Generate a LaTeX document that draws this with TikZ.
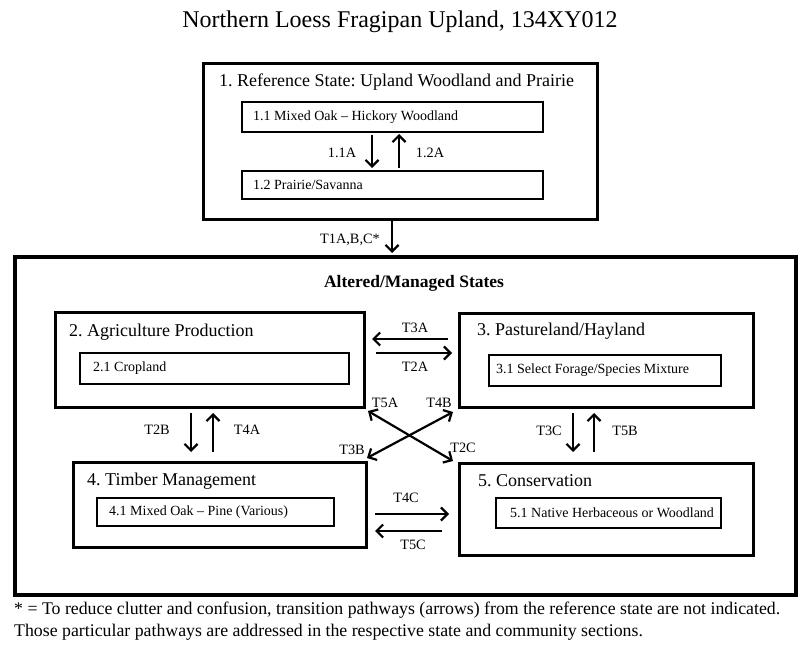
\documentclass[tikz,border=0pt]{standalone}
\usepackage{fontspec}
\setmainfont{Liberation Serif}
\usetikzlibrary{arrows.meta}
\frenchspacing
\begin{document}
\begin{tikzpicture}[x=1pt,y=-1pt,
  outerbox/.style={draw, line width=3pt, inner sep=0pt, rectangle},
  bigbox/.style={draw, line width=4.5pt, inner sep=0pt, rectangle},
  subbox/.style={draw, line width=1.8pt, inner sep=0pt, rectangle},
  boxtitle/.style={inner sep=0pt, anchor=west, font=\fontsize{18}{20}\selectfont},
  subtext/.style={inner sep=0pt, anchor=west, font=\fontsize{14}{16}\selectfont},
  lbl/.style={inner sep=0pt, font=\fontsize{14.3}{16}\selectfont},
  foot/.style={inner sep=0pt, anchor=west, font=\fontsize{17.8}{20}\selectfont},
  arr/.style={line width=2.2pt, -{Straight Barb[length=6.5pt,width=13pt]}},
  darr/.style={line width=2.2pt, {Straight Barb[length=6.5pt,width=13pt]}-{Straight Barb[length=6.5pt,width=13pt]}}]
\useasboundingbox (0,0) rectangle (800,652);
\fill[white] (0,0) rectangle (800,652);

\node[inner sep=0pt, font=\fontsize{24}{28}\selectfont] (title) at (400,22) {Northern Loess Fragipan Upland, 134XY012};

% Reference state
\node[outerbox, minimum width=394pt, minimum height=156pt] (b1) at (400,142) {};
\node[boxtitle] (t1) at (219,82) {1. Reference State: Upland Woodland and Prairie};
\node[subbox, minimum width=301pt, minimum height=30pt] (b11) at (392.5,117) {};
\node[subtext] (t11) at (253,117) {1.1 Mixed Oak – Hickory Woodland};
\node[subbox, minimum width=301pt, minimum height=28pt] (b12) at (392.5,185) {};
\node[subtext] (t12) at (253,185) {1.2 Prairie/Savanna};

\coordinate (a11s) at (372,135); \coordinate (a11e) at (372,168);
\coordinate (a12s) at (399,168); \coordinate (a12e) at (399,134);
\draw[arr] (a11s) -- (a11e);
\draw[arr] (a12s) -- (a12e);
\node[lbl] (l11) at (342,153) {1.1A};
\node[lbl] (l12) at (430,153) {1.2A};

\coordinate (t1s) at (392,220); \coordinate (t1e) at (392,253);
\draw[arr] (t1s) -- (t1e);
\node[lbl] (lt1) at (350,240) {T1A,B,C*};

% Altered states
\node[bigbox, minimum width=781pt, minimum height=338pt] (big) at (405.5,426) {};
\node[inner sep=0pt, font=\fontsize{17.5}{20}\selectfont\bfseries] (tbig) at (414,283) {Altered/Managed States};

\node[outerbox, minimum width=309pt, minimum height=95pt] (b2) at (209.5,359.5) {};
\node[boxtitle] (t2) at (69,332) {2. Agriculture Production};
\node[subbox, minimum width=269pt, minimum height=31pt] (b21) at (214.5,368.5) {};
\node[subtext] (t21) at (93,368.5) {2.1 Cropland};

\node[outerbox, minimum width=294pt, minimum height=94pt] (b3) at (606,360) {};
\node[boxtitle] (t3) at (477,331) {3. Pastureland/Hayland};
\node[subbox, minimum width=232pt, minimum height=31pt] (b31) at (605,370.5) {};
\node[subtext] (t31) at (496,370.5) {3.1 Select Forage/Species Mixture};

\node[outerbox, minimum width=293pt, minimum height=85pt] (b4) at (219.5,504.5) {};
\node[boxtitle] (t4) at (87,481) {4. Timber Management};
\node[subbox, minimum width=237pt, minimum height=28pt] (b41) at (215.5,512) {};
\node[subtext] (t41) at (109,512) {4.1 Mixed Oak – Pine (Various)};

\node[outerbox, minimum width=294pt, minimum height=92pt] (b5) at (606,509) {};
\node[boxtitle] (t5) at (478,481) {5. Conservation};
\node[subbox, minimum width=225pt, minimum height=30pt] (b51) at (608.5,513) {};
\node[subtext] (t51) at (510,513) {5.1 Native Herbaceous or Woodland};

% horizontal arrows 2<->3
\coordinate (t3as) at (448,339); \coordinate (t3ae) at (372,339);
\coordinate (t2as) at (376,353); \coordinate (t2ae) at (452,353);
\draw[arr] (t3as) -- (t3ae);
\draw[arr] (t2as) -- (t2ae);
\node[lbl] (lt3a) at (415,328) {T3A};
\node[lbl] (lt2a) at (415,367) {T2A};

% vertical 2<->4
\coordinate (t2bs) at (191,413); \coordinate (t2be) at (191,452);
\coordinate (t4as) at (213,452); \coordinate (t4ae) at (213,413);
\draw[arr] (t2bs) -- (t2be);
\draw[arr] (t4as) -- (t4ae);
\node[lbl] (lt2b) at (157,430) {T2B};
\node[lbl] (lt4a) at (247,430) {T4A};

% vertical 3<->5
\coordinate (t3cs) at (573,413); \coordinate (t3ce) at (573,452);
\coordinate (t5bs) at (594,452); \coordinate (t5be) at (594,413);
\draw[arr] (t3cs) -- (t3ce);
\draw[arr] (t5bs) -- (t5be);
\node[lbl] (lt3c) at (549,431) {T3C};
\node[lbl] (lt5b) at (625,431) {T5B};

% horizontal 4<->5
\coordinate (t4cs) at (375,514); \coordinate (t4ce) at (449,514);
\coordinate (t5cs) at (442,531); \coordinate (t5ce) at (375,531);
\draw[arr] (t4cs) -- (t4ce);
\draw[arr] (t5cs) -- (t5ce);
\node[lbl] (lt4c) at (406,498) {T4C};
\node[lbl] (lt5c) at (413,545) {T5C};

% diagonals
\coordinate (d1a) at (368,411); \coordinate (d1b) at (453,461);
\coordinate (d2a) at (367,458); \coordinate (d2b) at (453,412);
\draw[darr] (d1a) -- (d1b);
\draw[darr] (d2a) -- (d2b);
\node[lbl] (lt5a) at (385,403) {T5A};
\node[lbl] (lt4b) at (439,403) {T4B};
\node[lbl] (lt3b) at (352,450) {T3B};
\node[lbl] (lt2c) at (463,448) {T2C};

% footnote
\node[foot] (fn1) at (14,610) {* = To reduce clutter and confusion, transition pathways (arrows) from the reference state are not indicated.};
\node[foot] (fn2) at (14,632) {Those particular pathways are addressed in the respective state and community sections.};
\end{tikzpicture}
\end{document}
